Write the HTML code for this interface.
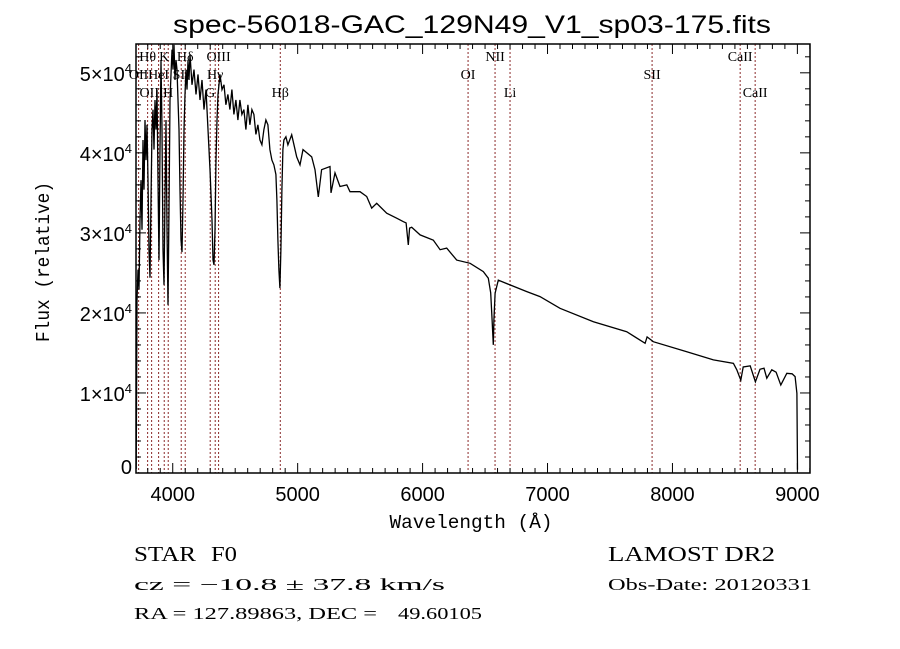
<!DOCTYPE html>
<html><head><meta charset="utf-8"><style>
html,body{margin:0;padding:0;background:#fff;}
svg{display:block;}
.sans{font-family:"Liberation Sans",sans-serif;}
.mono{font-family:"Liberation Mono",monospace;}
.serif{font-family:"Liberation Serif",serif;}
</style></head><body>
<svg id="chart" width="900" height="649" viewBox="0 0 900 649" xmlns="http://www.w3.org/2000/svg">
<rect width="900" height="649" fill="#fff"/>
<text class="sans" x="472" y="33" font-size="25" text-anchor="middle" textLength="598" lengthAdjust="spacingAndGlyphs">spec-56018-GAC_129N49_V1_sp03-175.fits</text>
<g id="lines"></g>
<g id="labels"></g>
<path id="spec" fill="none" stroke="#000" stroke-width="1.3" stroke-linejoin="miter"/>
<g id="axes"></g>
<text class="mono" x="471" y="528" font-size="19" text-anchor="middle" textLength="163" lengthAdjust="spacingAndGlyphs">Wavelength (Å)</text>
<text class="mono" transform="translate(49,262) rotate(-90)" font-size="19" text-anchor="middle" textLength="160" lengthAdjust="spacingAndGlyphs">Flux (relative)</text>
<text class="serif" x="134" y="561" font-size="21" textLength="62" lengthAdjust="spacingAndGlyphs">STAR</text>
<text class="serif" x="211" y="561" font-size="21" textLength="26" lengthAdjust="spacingAndGlyphs">F0</text>
<text class="serif" x="134" y="590" font-size="17" textLength="311" lengthAdjust="spacingAndGlyphs">cz = −10.8 ± 37.8 km/s</text>
<text class="serif" x="134" y="619" font-size="17" textLength="243" lengthAdjust="spacingAndGlyphs">RA = 127.89863, DEC =</text>
<text class="serif" x="398" y="619" font-size="17" textLength="84" lengthAdjust="spacingAndGlyphs">49.60105</text>
<text class="serif" x="608" y="561" font-size="21" textLength="167" lengthAdjust="spacingAndGlyphs">LAMOST DR2</text>
<text class="serif" x="608" y="590" font-size="17" textLength="204" lengthAdjust="spacingAndGlyphs">Obs-Date: 20120331</text>
</svg>
<script>
const wave = [3708,3714,3722,3730,3738,3746,3754,3762,3770,3778,3786,3794,3802,3810,3818,3826,3834,3842,3850,3858,3866,3874,3882,3890,3898,3906,3914,3922,3930,3938,3946,3954,3962,3970,3978,3986,3994,4002,4010,4018,4026,4034,4042,4050,4058,4066,4074,4082,4090,4098,4106,4114,4122,4130,4138,4154,4170,4186,4202,4218,4234,4250,4266,4282,4298,4314,4322,4330,4338,4346,4354,4362,4378,4394,4410,4426,4442,4458,4474,4490,4506,4522,4538,4554,4570,4586,4602,4618,4634,4650,4666,4682,4698,4714,4730,4746,4762,4778,4794,4810,4826,4834,4842,4850,4858,4866,4874,4882,4890,4906,4922,4952,4992,5019,5043,5112,5139,5165,5192,5259,5267,5299,5339,5393,5419,5499,5553,5593,5633,5713,5793,5846,5868,5886,5896,5913,5980,6086,6140,6193,6273,6380,6486,6526,6545,6556,6566,6571,6580,6606,6700,6834,6940,7100,7367,7634,7781,7797,7847,8115,8328,8488,8515,8547,8566,8622,8664,8701,8733,8755,8795,8830,8867,8915,8958,8982,8996,9001];
const flux = [500,21600,25400,22900,31600,36600,30400,41600,35400,44100,39100,43500,36600,27900,24400,34100,42900,45400,40400,46600,42900,47900,36600,26600,40400,51600,42900,27900,23500,34100,44100,30400,21000,32900,46600,49800,52900,50400,53500,49100,51600,50400,46600,42900,35400,29100,27600,34100,42900,47300,50400,47900,51600,49100,52300,48500,50400,47300,49800,46600,49100,45400,47900,42900,37900,31600,26600,26000,30400,39100,44100,47300,49800,47900,48500,46000,47300,45400,47900,44800,46600,44100,46600,44800,45400,42900,46000,43500,45400,44800,42300,43500,41600,41000,42900,44100,43500,40400,39100,38500,37300,34100,29100,25400,23100,27900,35400,40400,41600,42000,41000,42250,39500,38500,40400,39500,37900,34500,37900,38300,35000,37500,35800,36000,35150,35150,34550,33100,33700,32460,31840,31400,31250,28500,30600,30700,29750,29100,27900,28100,26600,26200,25160,24340,22500,19100,16000,19100,22460,24100,23500,22660,22040,20580,18900,17660,16200,17000,16400,15160,14125,13700,12900,11600,13250,13400,11400,12960,13100,11840,12900,12600,11000,12460,12400,12040,9960,400];
const lineWaves = [3727,3799,3831,3887,3932,3964,4068,4100,4300,4340,4367,4861,6364,6580,6700,7837,8542,8662];
const labelText = ["OII","Hθ","OIII","HeI","K","H","SII","Hδ","G","Hγ","OIII","Hβ","OI","NII","Li","SII","CaII","CaII"];
const labelRow = [1,0,2,1,0,2,1,0,2,1,0,2,1,0,2,1,0,2];
const xTicks = [4000,5000,6000,7000,8000,9000];
const yTicks = [0,10000,20000,30000,40000,50000];
const yTickMant = ["0","1","2","3","4","5"];

const X0=136,X1=810,Y0=473,Y1=44, WMIN=3706, WMAX=9101, FMAX=53600;
function xs(w){return X0+(w-WMIN)/(WMAX-WMIN)*(X1-X0);}
function ys(f){return Y0-f/FMAX*(Y0-Y1);}
const NS='http://www.w3.org/2000/svg';
function mk(tag,attrs,parent){const e=document.createElementNS(NS,tag);for(const k in attrs)e.setAttribute(k,attrs[k]);parent.appendChild(e);return e;}

let d='';
for(let i=0;i<wave.length;i++){d+=(i?'L':'M')+xs(wave[i]).toFixed(1)+' '+ys(flux[i]).toFixed(1);}
document.getElementById('spec').setAttribute('d',d);

const lg=document.getElementById('lines'), lb=document.getElementById('labels');
const rowY=[61,79,97];
for(let i=0;i<lineWaves.length;i++){
  const x=xs(lineWaves[i]);
  const ln=mk('line',{x1:x,x2:x,y1:Y1,y2:Y0,stroke:'#8b2a2a','stroke-width':1,'stroke-dasharray':'2,2'},lg);
  
  
  const t=mk('text',{x:x,y:rowY[labelRow[i]],'font-size':14,'text-anchor':'middle','class':'serif'},lb);
  t.textContent=labelText[i];
  
  
}

const ax=document.getElementById('axes');
const fr=mk('rect',{x:X0,y:Y1,width:X1-X0,height:Y0-Y1,fill:'none',stroke:'#000','stroke-width':1.5},ax);


for(let w=3800;w<=9100;w+=100){
  const x=xs(w), major=(w%1000===0), L=major?10:5;
  mk('line',{x1:x,x2:x,y1:Y0,y2:Y0-L,stroke:'#000','stroke-width':1},ax);
  mk('line',{x1:x,x2:x,y1:Y1,y2:Y1+L,stroke:'#000','stroke-width':1},ax);
}
for(let f=0;f<=53000;f+=2000){
  const y=ys(f), major=(f%10000===0), L=major?10:5;
  mk('line',{x1:X0,x2:X0+L,y1:y,y2:y,stroke:'#000','stroke-width':1},ax);
  mk('line',{x1:X1,x2:X1-L,y1:y,y2:y,stroke:'#000','stroke-width':1},ax);
}
xTicks.forEach(w=>{
  const t=mk('text',{x:xs(w),y:Y0+28,'font-size':20,'text-anchor':'middle','class':'sans'},ax);
  t.textContent=String(w);
  
  
});
yTicks.forEach((f,i)=>{
  const off = f===0 ? 1 : 8;
  const t=mk('text',{x:X0-4,y:ys(f)+off,'font-size':20,'text-anchor':'end','class':'sans'},ax);
  if(f===0){t.textContent='0';}
  else{
    const a=document.createElementNS(NS,'tspan');a.textContent=yTickMant[i]+'×10';t.appendChild(a);
    const b=document.createElementNS(NS,'tspan');b.setAttribute('dy','-8');b.setAttribute('font-size','13');b.textContent='4';t.appendChild(b);
  }
  
  
});
</script>
</body></html>
